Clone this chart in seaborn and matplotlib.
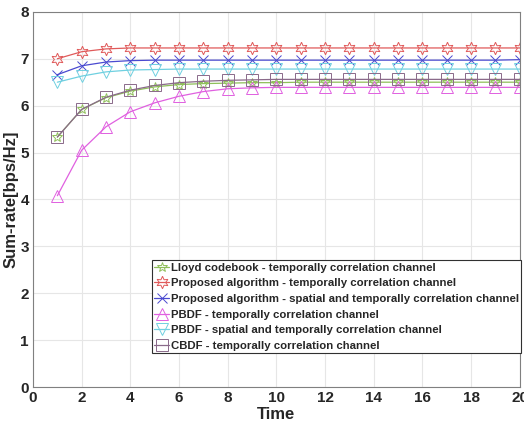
import numpy as np
import seaborn as sns
import matplotlib.pyplot as plt

# Data
time = list(range(1, 21))
lloyd = [5.33, 5.92, 6.17, 6.31, 6.40, 6.45, 6.47, 6.48, 6.49, 6.49,
         6.50, 6.50, 6.50, 6.50, 6.50, 6.50, 6.50, 6.50, 6.50, 6.50]
prop_temp = [7.00, 7.15, 7.21, 7.23, 7.23, 7.23, 7.23, 7.23, 7.23, 7.23,
             7.23, 7.23, 7.23, 7.23, 7.23, 7.23, 7.23, 7.23, 7.23, 7.23]
prop_spat = [6.66, 6.85, 6.93, 6.96, 6.97, 6.97, 6.97, 6.97, 6.97, 6.97,
             6.97, 6.97, 6.97, 6.97, 6.97, 6.97, 6.97, 6.97, 6.97, 6.98]
pbdf_temp = [4.08, 5.05, 5.55, 5.87, 6.06, 6.20, 6.30, 6.36, 6.38, 6.39,
             6.39, 6.39, 6.39, 6.39, 6.39, 6.39, 6.39, 6.39, 6.39, 6.39]
pbdf_spat = [6.50, 6.63, 6.72, 6.76, 6.77, 6.78, 6.78, 6.78, 6.78, 6.78,
             6.78, 6.78, 6.78, 6.78, 6.78, 6.78, 6.78, 6.78, 6.78, 6.78]
cbdf_temp = [5.33, 5.92, 6.18, 6.33, 6.43, 6.49, 6.52, 6.54, 6.55, 6.56,
             6.56, 6.56, 6.56, 6.56, 6.56, 6.56, 6.56, 6.56, 6.56, 6.56]

labels = ['Lloyd codebook - temporally correlation channel',
          'Proposed algorithm - temporally correlation channel',
          'Proposed algorithm - spatial and temporally correlation channel',
          'PBDF - temporally correlation channel',
          'PBDF - spatial and temporally correlation channel',
          'CBDF - temporally correlation channel']

sns.set_style("whitegrid")
plt.rcParams['font.family'] = ['Liberation Sans', 'DejaVu Sans']

fig, ax = plt.subplots(figsize=(5.24, 4.23), dpi=100)
fig.subplots_adjust(left=0.063, right=0.992, top=0.972, bottom=0.085)

series = [lloyd, prop_temp, prop_spat, pbdf_temp, pbdf_spat, cbdf_temp]
colors = ['#8fbf5a', '#e05a5a', '#4a4ad0', '#e060e0', '#6fd0e0', '#8a6a8a']
markers = ['*', (6, 1, 0), 'x', '^', 'v', 's']
sizes = [7, 9, 7, 9, 9, 8]

for vals, lab, c, m, ms in zip(series, labels, colors, markers, sizes):
    sns.lineplot(x=time, y=vals, ax=ax, label=lab, color=c, marker=m,
                 markersize=ms, markerfacecolor='none', markeredgecolor=c,
                 markeredgewidth=0.7, linewidth=0.9)

ax.set_xlim(0, 20)
ax.set_ylim(0, 8)
ax.set_xticks(np.arange(0, 21, 2))
ax.set_yticks(np.arange(0, 9, 1))
ax.grid(True, color='#e6e6e6', linewidth=0.8)
for s in ax.spines.values():
    s.set_color('#808080')
    s.set_linewidth(0.8)
ax.tick_params(direction='in', length=4, color='#808080', labelsize=11, pad=3)
for t in ax.get_xticklabels() + ax.get_yticklabels():
    t.set_fontweight('bold')
ax.set_xlabel('Time', fontsize=12, fontweight='bold', labelpad=1)
ax.set_ylabel('Sum-rate[bps/Hz]', fontsize=12, fontweight='bold', labelpad=1)

leg = ax.legend(loc='lower right', bbox_to_anchor=(1.003, 0.09), fontsize=8.2,
                frameon=True, fancybox=False, edgecolor='#303030', framealpha=1,
                borderpad=0.2, labelspacing=0.5, handlelength=1.3,
                handletextpad=0.15, borderaxespad=0)
leg.get_frame().set_linewidth(0.8)
for t in leg.get_texts():
    t.set_fontweight('bold')

plt.savefig('out.png', dpi=100)
